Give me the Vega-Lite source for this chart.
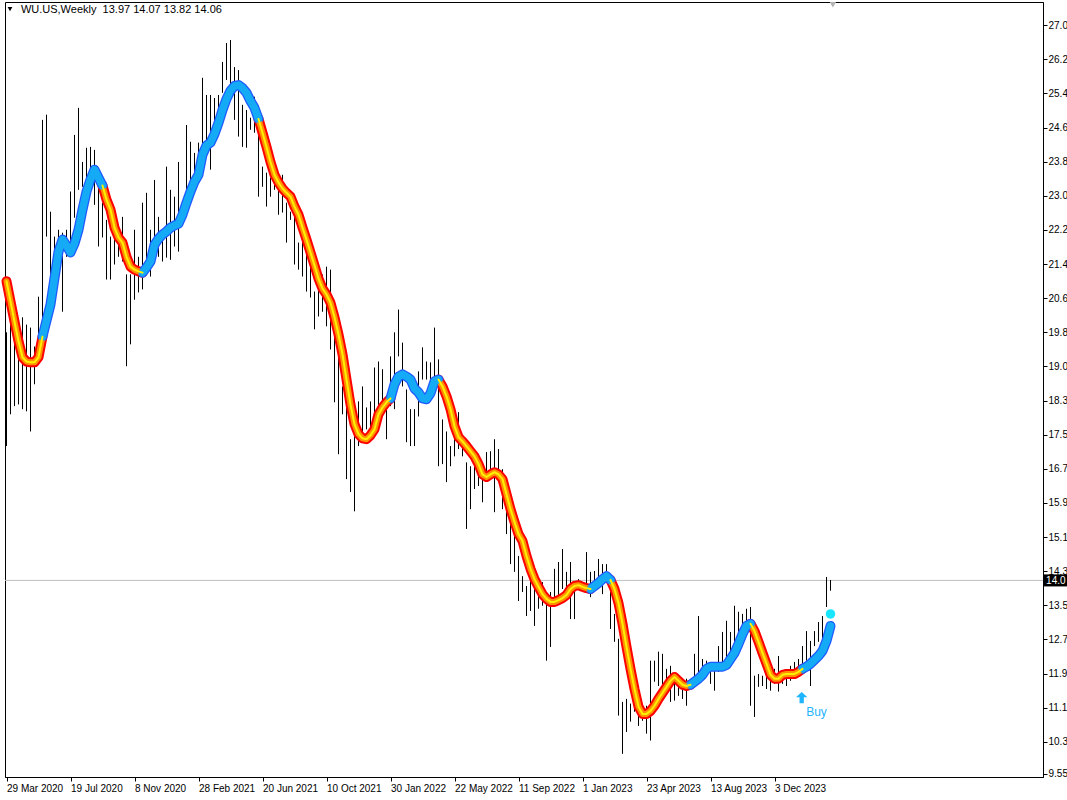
{
  "$schema": "https://vega.github.io/schema/vega-lite/v6.json",
  "width": 1038,
  "height": 775,
  "autosize": {"type": "none"},
  "padding": {"left": 5, "top": 2, "right": 24, "bottom": 23},
  "background": "white",
  "config": {
    "view": {"stroke": "#000000", "strokeWidth": 1},
    "axis": {"labelFont": "Liberation Sans", "labelFontSize": 10, "labelColor": "#000000", "domainColor": "#000000", "tickColor": "#000000", "grid": false, "title": null, "labelOverlap": false, "labelSeparation": 0}
  },
  "datasets": {
    "bars": [
      {"i":0,"h":19.84,"l":17.19},{"i":1,"h":20.21,"l":17.93},{"i":2,"h":20.56,"l":18.12},{"i":3,"h":20.07,"l":18.16},{"i":4,"h":20.19,"l":18.05},
      {"i":5,"h":20.02,"l":18.00},{"i":6,"h":19.95,"l":17.53},{"i":7,"h":19.51,"l":18.63},{"i":8,"h":20.67,"l":19.44},{"i":9,"h":24.79,"l":19.84},
      {"i":10,"h":24.91,"l":22.07},{"i":11,"h":22.65,"l":21.14},{"i":12,"h":22.07,"l":20.77},{"i":13,"h":22.23,"l":21.07},{"i":14,"h":22.16,"l":20.32},
      {"i":15,"h":22.23,"l":21.60},{"i":16,"h":23.12,"l":21.77},{"i":17,"h":24.44,"l":22.51},{"i":18,"h":25.07,"l":23.16},{"i":19,"h":23.81,"l":23.23},
      {"i":20,"h":24.14,"l":23.16},{"i":21,"h":24.16,"l":23.16},{"i":22,"h":24.09,"l":22.81},{"i":23,"h":23.32,"l":21.84},{"i":24,"h":22.86,"l":22.05},
      {"i":25,"h":22.46,"l":21.07},{"i":26,"h":22.07,"l":21.07},{"i":27,"h":22.42,"l":21.42},{"i":28,"h":21.93,"l":21.60},{"i":29,"h":22.53,"l":21.49},
      {"i":30,"h":21.19,"l":19.05},{"i":31,"h":21.19,"l":19.56},{"i":32,"h":22.23,"l":20.60},{"i":33,"h":21.60,"l":20.77},{"i":34,"h":22.86,"l":20.84},
      {"i":35,"h":23.09,"l":21.47},{"i":36,"h":22.23,"l":21.14},{"i":37,"h":23.39,"l":21.60},{"i":38,"h":22.53,"l":21.60},{"i":39,"h":22.23,"l":21.49},
      {"i":40,"h":23.70,"l":21.58},{"i":41,"h":23.16,"l":21.53},{"i":42,"h":23.00,"l":21.84},{"i":43,"h":23.81,"l":21.72},{"i":44,"h":22.86,"l":22.40},
      {"i":45,"h":24.67,"l":22.77},{"i":46,"h":24.28,"l":23.00},{"i":47,"h":24.02,"l":23.32},{"i":48,"h":24.26,"l":23.67},{"i":49,"h":25.77,"l":23.63},
      {"i":50,"h":25.37,"l":24.14},{"i":51,"h":25.37,"l":23.63},{"i":52,"h":25.30,"l":24.63},{"i":53,"h":25.37,"l":25.02},{"i":54,"h":26.14,"l":25.42},
      {"i":55,"h":26.58,"l":25.72},{"i":56,"h":26.65,"l":25.33},{"i":57,"h":26.02,"l":24.79},{"i":58,"h":25.95,"l":24.40},{"i":59,"h":25.14,"l":24.16},
      {"i":60,"h":25.02,"l":24.14},{"i":61,"h":24.84,"l":24.56},{"i":62,"h":25.33,"l":24.49},{"i":63,"h":25.02,"l":23.00},{"i":64,"h":23.70,"l":23.23},
      {"i":65,"h":23.56,"l":22.77},{"i":66,"h":23.44,"l":23.00},{"i":67,"h":23.35,"l":23.16},{"i":68,"h":23.46,"l":22.58},{"i":69,"h":23.51,"l":22.63},
      {"i":70,"h":22.86,"l":21.93},{"i":71,"h":22.65,"l":22.46},{"i":72,"h":22.65,"l":21.42},{"i":73,"h":21.93,"l":21.30},{"i":74,"h":22.00,"l":21.14},
      {"i":75,"h":21.84,"l":20.79},{"i":76,"h":21.49,"l":20.65},{"i":77,"h":20.79,"l":19.91},{"i":78,"h":20.91,"l":20.21},{"i":79,"h":21.19,"l":20.32},
      {"i":80,"h":21.37,"l":19.98},{"i":81,"h":21.30,"l":19.44},{"i":82,"h":19.91,"l":18.21},{"i":83,"h":19.74,"l":17.00},{"i":84,"h":18.58,"l":17.93},
      {"i":85,"h":18.28,"l":16.42},{"i":86,"h":17.35,"l":16.12},{"i":87,"h":17.42,"l":15.67},{"i":88,"h":18.23,"l":17.19},{"i":89,"h":18.58,"l":17.51},
      {"i":90,"h":18.09,"l":17.58},{"i":91,"h":18.23,"l":17.47},{"i":92,"h":19.02,"l":17.98},{"i":93,"h":19.16,"l":18.05},{"i":94,"h":18.98,"l":18.21},
      {"i":95,"h":18.28,"l":17.35},{"i":96,"h":19.28,"l":18.12},{"i":97,"h":19.84,"l":18.05},{"i":98,"h":20.37,"l":19.28},{"i":99,"h":19.60,"l":18.58},
      {"i":100,"h":18.51,"l":17.28},{"i":101,"h":18.05,"l":17.19},{"i":102,"h":18.05,"l":17.19},{"i":103,"h":18.93,"l":17.88},{"i":104,"h":19.49,"l":18.74},
      {"i":105,"h":19.16,"l":18.74},{"i":106,"h":19.14,"l":18.70},{"i":107,"h":19.95,"l":18.81},{"i":108,"h":19.21,"l":16.72},{"i":109,"h":17.81,"l":16.77},
      {"i":110,"h":17.53,"l":16.35},{"i":111,"h":17.19,"l":16.72},{"i":112,"h":17.98,"l":16.95},{"i":113,"h":17.98,"l":17.12},{"i":114,"h":17.35,"l":16.95},
      {"i":115,"h":16.81,"l":15.26},{"i":116,"h":16.72,"l":15.72},{"i":117,"h":16.93,"l":16.19},{"i":118,"h":16.72,"l":16.26},{"i":119,"h":16.81,"l":15.88},
      {"i":120,"h":17.05,"l":16.37},{"i":121,"h":17.07,"l":16.42},{"i":122,"h":17.35,"l":15.65},{"i":123,"h":17.12,"l":16.42},{"i":124,"h":16.65,"l":15.72},
      {"i":125,"h":16.19,"l":15.14},{"i":126,"h":15.60,"l":14.44},{"i":127,"h":15.49,"l":14.26},{"i":128,"h":14.63,"l":13.58},{"i":129,"h":14.16,"l":13.79},
      {"i":130,"h":13.93,"l":13.23},{"i":131,"h":14.28,"l":13.35},{"i":132,"h":14.16,"l":13.00},{"i":133,"h":13.93,"l":13.40},{"i":134,"h":14.02,"l":13.47},
      {"i":135,"h":13.51,"l":12.19},{"i":136,"h":13.79,"l":12.51},{"i":137,"h":14.33,"l":13.47},{"i":138,"h":14.49,"l":13.63},{"i":139,"h":14.79,"l":13.86},
      {"i":140,"h":14.26,"l":13.70},{"i":141,"h":14.49,"l":13.16},{"i":142,"h":13.86,"l":13.16},{"i":143,"h":14.09,"l":13.86},{"i":144,"h":14.02,"l":13.86},
      {"i":145,"h":14.72,"l":13.93},{"i":146,"h":14.26,"l":13.67},{"i":147,"h":14.28,"l":13.93},{"i":148,"h":14.56,"l":14.02},{"i":149,"h":14.44,"l":13.74},
      {"i":150,"h":14.44,"l":14.02},{"i":151,"h":13.79,"l":12.93},{"i":152,"h":13.28,"l":12.63},{"i":153,"h":12.70,"l":10.91},{"i":154,"h":11.23,"l":10.02},
      {"i":155,"h":11.30,"l":10.53},{"i":156,"h":11.19,"l":10.77},{"i":157,"h":11.58,"l":11.00},{"i":158,"h":11.42,"l":10.67},{"i":159,"h":10.91,"l":10.79},
      {"i":160,"h":11.14,"l":10.49},{"i":161,"h":12.19,"l":10.33},{"i":162,"h":12.19,"l":11.70},{"i":163,"h":12.40,"l":11.60},{"i":164,"h":12.35,"l":11.37},
      {"i":165,"h":12.00,"l":11.47},{"i":166,"h":12.07,"l":11.23},{"i":167,"h":11.81,"l":11.26},{"i":168,"h":11.84,"l":11.37},{"i":169,"h":11.77,"l":11.30},
      {"i":170,"h":11.77,"l":11.14},{"i":171,"h":11.70,"l":11.53},{"i":172,"h":12.35,"l":11.70},{"i":173,"h":13.23,"l":11.77},{"i":174,"h":12.23,"l":11.77},
      {"i":175,"h":12.19,"l":11.95},{"i":176,"h":12.00,"l":11.65},{"i":177,"h":12.07,"l":11.49},{"i":178,"h":12.53,"l":11.93},{"i":179,"h":12.86,"l":12.16},
      {"i":180,"h":13.12,"l":12.07},{"i":181,"h":12.86,"l":12.35},{"i":182,"h":13.47,"l":12.53},{"i":183,"h":13.33,"l":12.77},{"i":184,"h":13.28,"l":12.88},
      {"i":185,"h":13.40,"l":12.98},{"i":186,"h":13.44,"l":11.14},{"i":187,"h":11.84,"l":10.88},{"i":188,"h":11.88,"l":11.58},{"i":189,"h":11.84,"l":11.60},
      {"i":190,"h":11.93,"l":11.53},{"i":191,"h":11.81,"l":11.49},{"i":192,"h":12.00,"l":11.65},{"i":193,"h":12.30,"l":11.47},{"i":194,"h":11.93,"l":11.65},
      {"i":195,"h":11.93,"l":11.60},{"i":196,"h":12.07,"l":11.72},{"i":197,"h":12.16,"l":11.84},{"i":198,"h":12.23,"l":11.84},{"i":199,"h":12.53,"l":12.00},
      {"i":200,"h":12.88,"l":12.19},{"i":201,"h":12.65,"l":11.60},{"i":202,"h":12.88,"l":12.53},{"i":203,"h":13.09,"l":12.63},{"i":204,"h":13.23,"l":12.70},
      {"i":205,"h":14.14,"l":13.44},{"i":206,"h":14.07,"l":13.82}
    ],
    "ma": [
      {"s":1,"t":"d","i":0,"v":21.03},{"s":1,"t":"d","i":1,"v":20.56},{"s":1,"t":"d","i":2,"v":20.09},{"s":1,"t":"d","i":3,"v":19.63},{"s":1,"t":"d","i":4,"v":19.26},{"s":1,"t":"d","i":5,"v":19.16},{"s":1,"t":"d","i":6,"v":19.14},{"s":1,"t":"d","i":7,"v":19.14},{"s":1,"t":"d","i":8,"v":19.26},{"s":1,"t":"d","i":9,"v":19.74},
      {"s":2,"t":"u","i":9,"v":19.74},{"s":2,"t":"u","i":11,"v":20.49},{"s":2,"t":"u","i":13,"v":21.72},{"s":2,"t":"u","i":14,"v":22.0},{"s":2,"t":"u","i":15,"v":21.86},{"s":2,"t":"u","i":16,"v":21.70},{"s":2,"t":"u","i":17,"v":21.91},{"s":2,"t":"u","i":18,"v":22.23},{"s":2,"t":"u","i":19,"v":22.70},{"s":2,"t":"u","i":20,"v":23.12},{"s":2,"t":"u","i":21,"v":23.40},{"s":2,"t":"u","i":22,"v":23.63},{"s":2,"t":"u","i":23,"v":23.44},{"s":2,"t":"u","i":24,"v":23.26},
      {"s":3,"t":"d","i":24,"v":23.26},{"s":3,"t":"d","i":25,"v":22.93},{"s":3,"t":"d","i":26,"v":22.70},{"s":3,"t":"d","i":27,"v":22.28},{"s":3,"t":"d","i":28,"v":22.05},{"s":3,"t":"d","i":29,"v":21.93},{"s":3,"t":"d","i":30,"v":21.60},{"s":3,"t":"d","i":31,"v":21.37},{"s":3,"t":"d","i":32,"v":21.30},{"s":3,"t":"d","i":33,"v":21.26},{"s":3,"t":"d","i":34,"v":21.23},
      {"s":4,"t":"u","i":34,"v":21.23},{"s":4,"t":"u","i":35,"v":21.35},{"s":4,"t":"u","i":36,"v":21.49},{"s":4,"t":"u","i":37,"v":21.88},{"s":4,"t":"u","i":38,"v":22.02},{"s":4,"t":"u","i":39,"v":22.12},{"s":4,"t":"u","i":40,"v":22.19},{"s":4,"t":"u","i":41,"v":22.28},{"s":4,"t":"u","i":42,"v":22.33},{"s":4,"t":"u","i":43,"v":22.37},{"s":4,"t":"u","i":44,"v":22.58},{"s":4,"t":"u","i":45,"v":22.86},{"s":4,"t":"u","i":46,"v":23.12},{"s":4,"t":"u","i":47,"v":23.35},{"s":4,"t":"u","i":48,"v":23.51},{"s":4,"t":"u","i":49,"v":23.98},{"s":4,"t":"u","i":50,"v":24.19},{"s":4,"t":"u","i":51,"v":24.26},{"s":4,"t":"u","i":52,"v":24.46},{"s":4,"t":"u","i":53,"v":24.72},{"s":4,"t":"u","i":54,"v":25.02},{"s":4,"t":"u","i":55,"v":25.28},{"s":4,"t":"u","i":56,"v":25.47},{"s":4,"t":"u","i":57,"v":25.58},{"s":4,"t":"u","i":58,"v":25.60},{"s":4,"t":"u","i":59,"v":25.53},{"s":4,"t":"u","i":60,"v":25.42},{"s":4,"t":"u","i":61,"v":25.23},{"s":4,"t":"u","i":62,"v":25.07},{"s":4,"t":"u","i":63,"v":24.81},
      {"s":5,"t":"d","i":63,"v":24.81},{"s":5,"t":"d","i":64,"v":24.49},{"s":5,"t":"d","i":65,"v":24.16},{"s":5,"t":"d","i":66,"v":23.81},{"s":5,"t":"d","i":67,"v":23.51},{"s":5,"t":"d","i":68,"v":23.33},{"s":5,"t":"d","i":69,"v":23.19},{"s":5,"t":"d","i":70,"v":23.09},{"s":5,"t":"d","i":71,"v":23.00},{"s":5,"t":"d","i":72,"v":22.77},{"s":5,"t":"d","i":73,"v":22.58},{"s":5,"t":"d","i":74,"v":22.28},{"s":5,"t":"d","i":75,"v":22.00},{"s":5,"t":"d","i":76,"v":21.70},{"s":5,"t":"d","i":77,"v":21.40},{"s":5,"t":"d","i":78,"v":21.09},{"s":5,"t":"d","i":79,"v":20.86},{"s":5,"t":"d","i":80,"v":20.72},{"s":5,"t":"d","i":81,"v":20.53},{"s":5,"t":"d","i":82,"v":20.19},{"s":5,"t":"d","i":83,"v":19.79},{"s":5,"t":"d","i":84,"v":19.33},{"s":5,"t":"d","i":85,"v":18.74},{"s":5,"t":"d","i":86,"v":18.16},{"s":5,"t":"d","i":87,"v":17.70},{"s":5,"t":"d","i":88,"v":17.47},{"s":5,"t":"d","i":89,"v":17.37},{"s":5,"t":"d","i":90,"v":17.35},{"s":5,"t":"d","i":91,"v":17.44},{"s":5,"t":"d","i":92,"v":17.58},{"s":5,"t":"d","i":93,"v":17.93},{"s":5,"t":"d","i":94,"v":18.09},{"s":5,"t":"d","i":95,"v":18.21},{"s":5,"t":"d","i":96,"v":18.30},
      {"s":6,"t":"u","i":96,"v":18.30},{"s":6,"t":"u","i":97,"v":18.63},{"s":6,"t":"u","i":98,"v":18.81},{"s":6,"t":"u","i":99,"v":18.86},{"s":6,"t":"u","i":100,"v":18.81},{"s":6,"t":"u","i":101,"v":18.74},{"s":6,"t":"u","i":102,"v":18.53},{"s":6,"t":"u","i":103,"v":18.44},{"s":6,"t":"u","i":104,"v":18.30},{"s":6,"t":"u","i":105,"v":18.28},{"s":6,"t":"u","i":106,"v":18.42},{"s":6,"t":"u","i":107,"v":18.70},{"s":6,"t":"u","i":108,"v":18.74},
      {"s":7,"t":"d","i":108,"v":18.74},{"s":7,"t":"d","i":109,"v":18.58},{"s":7,"t":"d","i":110,"v":18.35},{"s":7,"t":"d","i":111,"v":18.05},{"s":7,"t":"d","i":112,"v":17.65},{"s":7,"t":"d","i":113,"v":17.40},{"s":7,"t":"d","i":114,"v":17.30},{"s":7,"t":"d","i":115,"v":17.19},{"s":7,"t":"d","i":116,"v":17.07},{"s":7,"t":"d","i":117,"v":16.95},{"s":7,"t":"d","i":118,"v":16.77},{"s":7,"t":"d","i":119,"v":16.53},{"s":7,"t":"d","i":120,"v":16.47},{"s":7,"t":"d","i":121,"v":16.53},{"s":7,"t":"d","i":122,"v":16.58},{"s":7,"t":"d","i":123,"v":16.53},{"s":7,"t":"d","i":124,"v":16.42},{"s":7,"t":"d","i":125,"v":16.07},{"s":7,"t":"d","i":126,"v":15.72},{"s":7,"t":"d","i":127,"v":15.42},{"s":7,"t":"d","i":128,"v":15.14},{"s":7,"t":"d","i":129,"v":14.98},{"s":7,"t":"d","i":130,"v":14.63},{"s":7,"t":"d","i":131,"v":14.33},{"s":7,"t":"d","i":132,"v":14.09},{"s":7,"t":"d","i":133,"v":13.91},{"s":7,"t":"d","i":134,"v":13.74},{"s":7,"t":"d","i":135,"v":13.63},{"s":7,"t":"d","i":136,"v":13.56},{"s":7,"t":"d","i":137,"v":13.56},{"s":7,"t":"d","i":138,"v":13.60},{"s":7,"t":"d","i":139,"v":13.65},{"s":7,"t":"d","i":140,"v":13.72},{"s":7,"t":"d","i":141,"v":13.86},{"s":7,"t":"d","i":142,"v":13.93},{"s":7,"t":"d","i":143,"v":13.95},{"s":7,"t":"d","i":144,"v":13.91},{"s":7,"t":"d","i":145,"v":13.88},{"s":7,"t":"d","i":146,"v":13.86},
      {"s":8,"t":"u","i":146,"v":13.86},{"s":8,"t":"u","i":147,"v":13.93},{"s":8,"t":"u","i":148,"v":14.00},{"s":8,"t":"u","i":149,"v":14.09},{"s":8,"t":"u","i":150,"v":14.16},{"s":8,"t":"u","i":151,"v":14.07},
      {"s":9,"t":"d","i":151,"v":14.07},{"s":9,"t":"d","i":152,"v":13.86},{"s":9,"t":"d","i":153,"v":13.53},{"s":9,"t":"d","i":154,"v":13.05},{"s":9,"t":"d","i":155,"v":12.51},{"s":9,"t":"d","i":156,"v":12.00},{"s":9,"t":"d","i":157,"v":11.53},{"s":9,"t":"d","i":158,"v":11.12},{"s":9,"t":"d","i":159,"v":10.95},{"s":9,"t":"d","i":160,"v":10.95},{"s":9,"t":"d","i":161,"v":11.02},{"s":9,"t":"d","i":162,"v":11.14},{"s":9,"t":"d","i":163,"v":11.30},{"s":9,"t":"d","i":164,"v":11.44},{"s":9,"t":"d","i":165,"v":11.58},{"s":9,"t":"d","i":166,"v":11.72},{"s":9,"t":"d","i":167,"v":11.81},{"s":9,"t":"d","i":168,"v":11.72},{"s":9,"t":"d","i":169,"v":11.63},{"s":9,"t":"d","i":170,"v":11.60},{"s":9,"t":"d","i":171,"v":11.63},
      {"s":10,"t":"u","i":171,"v":11.63},{"s":10,"t":"u","i":172,"v":11.70},{"s":10,"t":"u","i":173,"v":11.77},{"s":10,"t":"u","i":174,"v":11.86},{"s":10,"t":"u","i":175,"v":12.00},{"s":10,"t":"u","i":176,"v":12.05},{"s":10,"t":"u","i":177,"v":12.05},{"s":10,"t":"u","i":178,"v":12.05},{"s":10,"t":"u","i":179,"v":12.05},{"s":10,"t":"u","i":180,"v":12.09},{"s":10,"t":"u","i":181,"v":12.23},{"s":10,"t":"u","i":182,"v":12.37},{"s":10,"t":"u","i":183,"v":12.58},{"s":10,"t":"u","i":184,"v":12.81},{"s":10,"t":"u","i":185,"v":13.00},{"s":10,"t":"u","i":186,"v":13.05},
      {"s":11,"t":"d","i":186,"v":13.05},{"s":11,"t":"d","i":187,"v":12.88},{"s":11,"t":"d","i":188,"v":12.63},{"s":11,"t":"d","i":189,"v":12.37},{"s":11,"t":"d","i":190,"v":12.12},{"s":11,"t":"d","i":191,"v":11.86},{"s":11,"t":"d","i":192,"v":11.77},{"s":11,"t":"d","i":193,"v":11.77},{"s":11,"t":"d","i":194,"v":11.86},{"s":11,"t":"d","i":195,"v":11.88},{"s":11,"t":"d","i":196,"v":11.88},{"s":11,"t":"d","i":197,"v":11.88},{"s":11,"t":"d","i":198,"v":11.93},{"s":11,"t":"d","i":199,"v":12.00},
      {"s":12,"t":"u","i":199,"v":12.00},{"s":12,"t":"u","i":200,"v":12.05},{"s":12,"t":"u","i":201,"v":12.12},{"s":12,"t":"u","i":202,"v":12.21},{"s":12,"t":"u","i":203,"v":12.30},{"s":12,"t":"u","i":204,"v":12.42},{"s":12,"t":"u","i":205,"v":12.65},{"s":12,"t":"u","i":206,"v":13.00}
    ]
  },
  "layer": [
    {
      "data": {"values": [{"p": 14.06}]},
      "mark": {"type": "rule", "color": "#C0C0C0", "strokeWidth": 1},
      "encoding": {"y": {"field": "p", "type": "quantitative",
              "scale": {"domain": [9.48, 27.536], "nice": false, "zero": false},
              "axis": {"orient": "right", "tickCount": 60, "values": [9.55,10.3,11.095,11.89,12.685,13.48,14.275,15.07,15.865,16.66,17.455,18.25,19.045,19.84,20.635,21.43,22.225,23.02,23.815,24.61,25.405,26.2,26.995],
                       "labelExpr": "datum.value < 10 ? '9.55' : format(datum.value, '.1f')",
                       "labelAlign": "left", "labelBaseline": "middle", "labelPadding": 1, "tickSize": 4, "labelOverlap": false, "labelBound": false, "labelFlush": false}}}
    },
    {
      "data": {"name": "bars"},
      "mark": {"type": "rule", "color": "#000000", "strokeWidth": 1},
      "encoding": {
        "x": {"field": "i", "type": "quantitative",
              "scale": {"domain": [-0.375, 259.125], "nice": false, "zero": false},
              "axis": {"orient": "bottom", "tickCount": 60, "values": [0,16,32,48,64,80,96,112,128,144,160,176,192],
                       "labelExpr": "['29 Mar 2020','19 Jul 2020','8 Nov 2020','28 Feb 2021','20 Jun 2021','10 Oct 2021','30 Jan 2022','22 May 2022','11 Sep 2022','1 Jan 2023','23 Apr 2023','13 Aug 2023','3 Dec 2023'][round(datum.value/16)]",
                       "labelAlign": "left", "labelBaseline": "top", "labelPadding": 2, "tickSize": 4, "labelOverlap": false, "labelBound": false, "labelFlush": false}},
        "y": {"field": "h", "type": "quantitative"},
        "y2": {"field": "l"}
      }
    },
    {
      "data": {"name": "ma"},
      "transform": [{"filter": "datum.t == 'd'"}],
      "mark": {"type": "line", "color": "#FF0000", "strokeWidth": 10, "strokeCap": "round", "strokeJoin": "round"},
      "encoding": {"x": {"field": "i", "type": "quantitative"}, "y": {"field": "v", "type": "quantitative"}, "detail": {"field": "s"}}
    },
    {
      "data": {"name": "ma"},
      "transform": [{"filter": "datum.t == 'u'"}],
      "mark": {"type": "line", "color": "#1E5AFF", "strokeWidth": 10, "strokeCap": "round", "strokeJoin": "round"},
      "encoding": {"x": {"field": "i", "type": "quantitative"}, "y": {"field": "v", "type": "quantitative"}, "detail": {"field": "s"}}
    },
    {
      "data": {"name": "ma"},
      "transform": [{"filter": "datum.t == 'd'"}],
      "mark": {"type": "line", "color": "#FF9000", "strokeWidth": 6, "strokeCap": "round", "strokeJoin": "round"},
      "encoding": {"x": {"field": "i", "type": "quantitative"}, "y": {"field": "v", "type": "quantitative"}, "detail": {"field": "s"}}
    },
    {
      "data": {"name": "ma"},
      "transform": [{"filter": "datum.t == 'u'"}],
      "mark": {"type": "line", "color": "#14AAF5", "strokeWidth": 7.5, "strokeCap": "round", "strokeJoin": "round"},
      "encoding": {"x": {"field": "i", "type": "quantitative"}, "y": {"field": "v", "type": "quantitative"}, "detail": {"field": "s"}}
    },
    {
      "data": {"name": "ma"},
      "transform": [{"filter": "datum.t == 'd'"}],
      "mark": {"type": "line", "color": "#FFF000", "strokeWidth": 2, "strokeCap": "round", "strokeJoin": "round"},
      "encoding": {"x": {"field": "i", "type": "quantitative"}, "y": {"field": "v", "type": "quantitative"}, "detail": {"field": "s"}}
    },
    {
      "data": {"values": [{"i": 206, "v": 13.28}]},
      "mark": {"type": "point", "filled": true, "color": "#18E6FF", "size": 90, "opacity": 1},
      "encoding": {"x": {"field": "i", "type": "quantitative"}, "y": {"field": "v", "type": "quantitative"}}
    },
    {
      "data": {"values": [{"i": 198.8, "v": 11.33}]},
      "mark": {"type": "point", "shape": "M0,-1L1,-0.05L0.38,-0.05L0.38,1L-0.38,1L-0.38,-0.05L-1,-0.05Z", "filled": true, "color": "#1EB4FF", "size": 130, "opacity": 1},
      "encoding": {"x": {"field": "i", "type": "quantitative"}, "y": {"field": "v", "type": "quantitative"}}
    },
    {
      "data": {"values": [{"i": 202.5, "v": 11.0, "txt": "Buy"}]},
      "mark": {"type": "text", "color": "#1EB4FF", "font": "Liberation Sans", "fontSize": 12, "align": "center", "baseline": "middle"},
      "encoding": {"x": {"field": "i", "type": "quantitative"}, "y": {"field": "v", "type": "quantitative"}, "text": {"field": "txt"}}
    },
    {
      "data": {"values": [{"i": 0.875, "v": 27.37}]},
      "mark": {"type": "point", "shape": "triangle-down", "filled": true, "color": "#000000", "size": 22, "opacity": 1},
      "encoding": {"x": {"field": "i", "type": "quantitative"}, "y": {"field": "v", "type": "quantitative"}}
    },
    {
      "data": {"values": [{"i": 3.6, "v": 27.35, "txt": "WU.US,Weekly\u00a0\u00a013.97 14.07 13.82 14.06"}]},
      "mark": {"type": "text", "color": "#000000", "font": "Liberation Sans", "fontSize": 11, "align": "left", "baseline": "middle"},
      "encoding": {"x": {"field": "i", "type": "quantitative"}, "y": {"field": "v", "type": "quantitative"}, "text": {"field": "txt"}}
    },
    {
      "data": {"values": [{"i": 206.6, "v": 27.47}]},
      "mark": {"type": "point", "shape": "triangle-down", "filled": true, "color": "#B4B4B4", "size": 40, "opacity": 1},
      "encoding": {"x": {"field": "i", "type": "quantitative"}, "y": {"field": "v", "type": "quantitative"}}
    },
    {
      "data": {"values": [{"a": 259.125, "b": 265.2, "lo": 13.92, "hi": 14.20}]},
      "mark": {"type": "rect", "color": "#000000", "clip": false},
      "encoding": {"x": {"field": "a", "type": "quantitative"}, "x2": {"field": "b"}, "y": {"field": "lo", "type": "quantitative"}, "y2": {"field": "hi"}}
    },
    {
      "data": {"values": [{"i": 259.9, "v": 14.035, "txt": "14.0"}]},
      "mark": {"type": "text", "color": "#FFFFFF", "font": "Liberation Sans", "fontSize": 10, "align": "left", "baseline": "middle", "clip": false},
      "encoding": {"x": {"field": "i", "type": "quantitative"}, "y": {"field": "v", "type": "quantitative"}, "text": {"field": "txt"}}
    }
  ]
}
